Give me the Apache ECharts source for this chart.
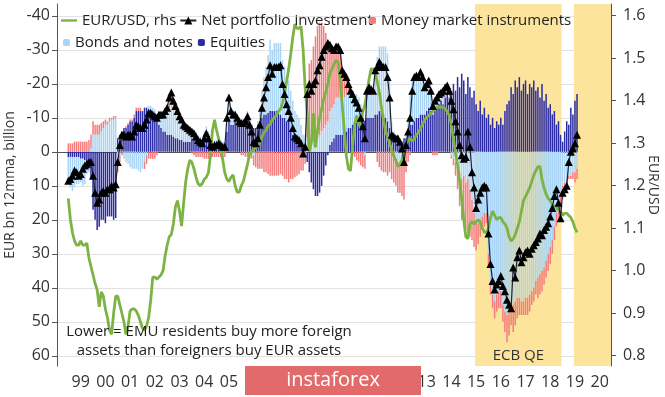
<!DOCTYPE html>
<html>
<head>
<meta charset="utf-8">
<script src="https://cdn.jsdelivr.net/npm/echarts@6/dist/echarts.min.js"></script>
<style>
  html, body { margin: 0; padding: 0; background: #fff; }
  #chart-container { width: 665px; height: 397px; }
</style>
</head>
<body>
<div id="chart-container"></div>
<script>
// monthly data, Jan 1999 .. Aug 2019 (EUR bn, 12m moving average; positive = net outflow, drawn downwards)
var equities = [
  1.5, 1.5, 1.5, 1.5, 1.5, 1.5, 2, 2, 2.5, 4, 5, 8,            // 1999
  17, 20, 23, 22, 20, 20, 21, 19, 19, 19, 20, 19.5,            // 2000
  -4, -5, -6, -7, -7, -8, -9, -9, -10, -12, -12, -12,          // 2001
  -12, -13, -13, -12.5, -12, -11, -10, -9, -8, -7, -6, -6,     // 2002
  -5, -5, -5, -4.5, -4, -4, -3.5, -3.5, -3, -3, -3, -3,        // 2003
  -4, -4, -4, -3, -2.5, -2, -3, -4, -3, -2, -2, -2,            // 2004
  -2, -2, -2, -2, -2.5, -6, -9, -8, -8, -9, -8.5, -8,          // 2005
  -8, -8, -9, -10, -9, -8, -7, -7, -8, -9, -10, -11,           // 2006
  -11, -11.5, -12, -12, -12, -12, -12, -11, -10, -10, -9, -9,  // 2007
  -6, -5, -4, -4, -4, -3, -2, -1, 3, 6, 9, 11,                 // 2008
  13, 13, 12, 10, 7, 4, 1, -2, -3, -4, -5, -5,                 // 2009
  -5, -5, -6, -6, -7, -7, -8, -8, -9, -9, -9, -10,             // 2010
  -9, -10, -10, -10, -10, -11, -11, -12, -12, -11, -10, -9,    // 2011
  -7, -5, -4, -4, -3.5, -3, -3, -4, -4, -6, -8, -8,            // 2012
  -9, -10, -10, -11, -11, -11, -12, -13, -12, -11, -12, -13,   // 2013
  -14, -15, -14, -16, -17, -16, -18, -20, -18, -22, -19, -23,  // 2014
  -21, -17, -22, -19, -16, -18, -14, -12, -15, -11, -13, -10,  // 2015
  -11, -8, -10, -7, -9, -8, -10, -8, -12, -14, -15, -19,       // 2016
  -17, -21, -19, -22, -18, -20, -21, -17, -20, -19, -21, -18,  // 2017
  -19, -16, -20, -15, -17, -13, -14, -11, -12, -8, -9, -5,     // 2018
  -3, -6, -9, -8, -13, -11, -15, -17                           // 2019
];
var bonds = [
  8, 9, 10, 9, 8, 8, 7, 8, 7, 2.5, 1, -1,
  -5, -5, -5, -5, -6, -7, -8, -8, -9, -9.5, -9.5, -10,
  2, 1, 0, 2, 3, 3.5, 4.5, 5, 5, 5, 5.5, 6,
  5, 3, 1, -1, -1.5, -2, -2.5, -2, -3, -4, -5, -5,
  -6, -8, -9, -8, -8, -7, -6.5, -5.5, -4.5, -4, -3.5, -3,
  -2.5, -2.5, -2, -2, -2, -2, -3, -3.5, -3, -1.5, -1, -1.5,
  -1.5, -2, -1.5, -1, -0.5, -4, -7, -4, -3, -2, -1.5, -1,
  -1.5, -1.5, -1.5, -2, -1, 0, 1, 0, -1, -4, -8, -11,
  -14, -17, -21, -18, -20, -20, -20, -21, -17, -15, -13, -12,
  -12, -10, -8, -7, -6, -5, -3, -4, -4, -4, -3, -3,
  -3, -4, -5, -6, -7, -8, -9, -10, -10, -10, -11, -11,
  -11, -10, -10, -11, -11, -11, -10, -9, -8, -7, -5, -2,
  1, -8, -9, -8.5, -8, -13, -17, -19, -19, -20, -21, -20,
  -15, -4, -2, 2, 3, 4, 3, 2, -1, -4, -9, -13,
  -13, -12.5, -12, -12.5, -11, -8, -8, -8, -6, -3, -4, -4,
  -3, -3.5, -3, -3, -2.5, -1, 1, 2, 3, 4, 6, 8,
  7, 9, 8, 11, 14, 18, 21, 21, 20, 19, 18, 18,
  30, 38, 42, 44, 42, 41, 41, 45, 47, 48, 47, 46,
  45, 44, 43, 43, 44, 44, 43, 43, 42, 41, 40, 38,
  37, 36, 35, 34, 32, 30, 28, 26, 22, 18, 14, 12,
  10, 9, 8, 7, 7, 6, 6, 5
];
var moneyMarket = [
  -2.5, -2.5, -2.5, -3, -3, -3, -3, -3, -3, -3, -3.5, -4,
  -4, -3, -3, -3, -2.5, -2, -1.5, -1, -1, -0.5, -1, -0.5,
  4, 2, 1, 0, -0.5, -0.5, -0.5, -0.5, -1, -1, -1, -1,
  0, 2, 2.5, 2, 2, 2, 2, 1, 0, 0, 0, -1,
  -2, -3, -3.5, -2.5, -1.5, -1, -0.5, -0.5, -0.5, -0.5, -0.5, -0.5,
  0.5, 1, 1.5, 1.5, 1.5, 1.5, 2, 2, 2, 1.5, 1.5, 1.5,
  1.5, 1.5, 1.5, 1.5, 1.5, 0, 0, 0, 0, 0, 0, 0,
  1, 1, 1.5, 1.5, 2, 2, 3, 4.5, 5, 5, 5, 6,
  6, 6.5, 7, 7, 7, 7, 7, 6.5, 7, 8, 8, 9,
  8, 8, 7.5, 7, 6.5, 5.5, 5.5, 3.5, -16, -22, -24, -28,
  -31, -33, -33, -32, -30, -27, -24, -20, -17.5, -16, -15, -15,
  -14, -9, -7, -5, -2, 0, 1, 1.5, 2.5, 3, 4, 4.5,
  4, 0, 0, 0, 0, 0, 3, 4.5, 5.5, 6, 6, 7,
  6, 8, 9, 8, 9, 8, 10, 12, 6, 3, 1, 0,
  0, 0, 0, 0, 0, 0, 0, 0, 0, 1, 1, 1,
  0, 0, 0, 0, 0, 0, 1, 2, 4, 7, 10, 12,
  13, 14, 16, 14, 12, 10, 8, 6, 5, 4, 4, 3,
  4, 4, 4, 5, 5, 5, 5, 5, 6, 8, 7, 5,
  8, 7, 6, 5, 4, 4, 5, 5, 5, 4, 4, 4,
  6, 6, 6, 5, 5, 5, 5, 4, 4, 4, 6, 8,
  4, 3, 2, 1, 1, 2, 3, 3
];
var netPortfolio = [
  8.5, 8, 7, 5.5, 6, 7, 6.5, 5, 4, 3.5, 3, 3,
  7, 12, 15, 14, 12, 11.5, 12, 11, 11, 10, 10.5, 9.5,
  3, -2, -5, -5, -4.5, -5, -5, -4.5, -6, -8, -7.5, -7,
  -7, -8, -9.5, -11.5, -11.5, -11, -10.5, -10, -11, -11, -11, -12,
  -13, -16, -17.5, -15, -13.5, -12, -10.5, -9.5, -8, -7.5, -7, -6.5,
  -6, -5.5, -4.5, -3.5, -3, -2.5, -4, -5.5, -4, -2, -1.5, -2,
  -2, -2.5, -2, -1.5, -1.5, -10, -16, -12, -11, -11, -10, -9,
  -8.5, -8.5, -9, -10.5, -8, -6, -3, -2.5, -4, -8, -13, -16,
  -19, -22, -25.5, -23, -25, -25, -25, -25.5, -20, -17, -14, -12,
  -10, -7, -4.5, -4, -3.5, -2.5, 0.5, -1.5, -17, -20, -18, -20,
  -21, -24, -25.5, -28, -30, -31, -32, -31.5, -30.5, -30, -31, -31,
  -30, -24, -23, -22, -20, -18, -17, -15.5, -14.5, -13, -10, -7.5,
  -4, -18, -19, -18.5, -18, -24, -25, -26.5, -25.5, -25, -25, -22,
  -16, -5, -4.5, -4, -4, -3, -1, 3, -2, -6, -10, -18,
  -22, -22.5, -22, -23.5, -22, -19, -20, -21, -18, -13.5, -15, -16,
  -17, -17.5, -18, -19, -19.5, -18, -15, -12.5, -9, -6, -2, 1,
  2, 1.5, -6, -1.5, 6, 10.5, 16.5, 14, 12, 10.5, 10, 10.5,
  24, 33, 38, 40.5, 39, 38, 36.5, 39.5, 41, 43.5, 45, 46,
  34, 37, 31, 29, 32.5, 31, 29.5, 29, 30, 28.5, 27.5, 26.5,
  25.5, 24, 24.5, 23, 22, 21, 19, 16.5, 13, 11, 15, 19.5,
  12, 11, 10, 3, 0, -1, -2.5, -5
];
var eurUsd = [
  1.17, 1.12, 1.09, 1.07, 1.06, 1.06, 1.07, 1.06, 1.06, 1.065, 1.03, 1.01,
  0.99, 0.97, 0.955, 0.915, 0.95, 0.94, 0.91, 0.89, 0.86, 0.85, 0.9, 0.94,
  0.94, 0.92, 0.9, 0.88, 0.85, 0.87, 0.905, 0.91, 0.91, 0.905, 0.895, 0.88,
  0.865, 0.86, 0.87, 0.89, 0.93, 0.985, 0.985, 0.98, 0.985, 0.99, 1.0, 1.035,
  1.06, 1.08, 1.085, 1.11, 1.15, 1.165, 1.14, 1.105, 1.16, 1.21, 1.24, 1.26,
  1.255, 1.24, 1.22, 1.205, 1.2, 1.205, 1.215, 1.22, 1.23, 1.27, 1.33, 1.355,
  1.33, 1.31, 1.29, 1.26, 1.23, 1.215, 1.21, 1.22, 1.225, 1.2, 1.185, 1.185,
  1.2, 1.21, 1.23, 1.25, 1.275, 1.28, 1.285, 1.29, 1.295, 1.3, 1.315, 1.325,
  1.33, 1.34, 1.345, 1.355, 1.36, 1.365, 1.375, 1.38, 1.395, 1.42, 1.445, 1.475,
  1.51, 1.55, 1.58, 1.57, 1.57, 1.575, 1.52, 1.43, 1.37, 1.28, 1.3, 1.37,
  1.29, 1.33, 1.36, 1.38, 1.405, 1.42, 1.44, 1.465, 1.475, 1.485, 1.495, 1.49,
  1.45, 1.39, 1.33, 1.27, 1.24, 1.235, 1.29, 1.345, 1.365, 1.34, 1.35, 1.375,
  1.39, 1.42, 1.45, 1.475, 1.475, 1.465, 1.445, 1.42, 1.385, 1.355, 1.33, 1.315,
  1.3, 1.285, 1.27, 1.26, 1.245, 1.25, 1.26, 1.28, 1.295, 1.31, 1.31, 1.305,
  1.31, 1.32, 1.325, 1.335, 1.345, 1.355, 1.36, 1.365, 1.37, 1.375, 1.38, 1.385,
  1.385, 1.385, 1.385, 1.38, 1.375, 1.365, 1.345, 1.31, 1.275, 1.25, 1.21, 1.17,
  1.12, 1.08, 1.075, 1.11, 1.115, 1.11, 1.115, 1.12, 1.115, 1.1, 1.09, 1.09,
  1.1, 1.125, 1.14, 1.13, 1.12, 1.125, 1.125, 1.115, 1.11, 1.1, 1.08, 1.07,
  1.075, 1.085, 1.1, 1.115, 1.14, 1.165, 1.175, 1.185, 1.195, 1.21, 1.225, 1.235,
  1.245, 1.245, 1.215, 1.195, 1.18, 1.17, 1.165, 1.155, 1.15, 1.148, 1.143, 1.14,
  1.13, 1.135, 1.135, 1.13, 1.125, 1.115, 1.1, 1.09
];
var qePeriods = [['2015-03', '2018-12'], ['2019-10', '2020-12']];

// month categories: Aug 1998 .. Dec 2020; the data starts in Jan 1999
var months = [];
for (var y = 1998; y <= 2020; y++) {
  for (var m = 1; m <= 12; m++) {
    if (y === 1998 && m < 8) continue;
    months.push(y + '-' + (m < 10 ? '0' + m : m));
  }
}
var lead = months.indexOf('1999-01');
function pad(arr) {
  var out = [];
  for (var i = 0; i < months.length; i++) {
    var v = arr[i - lead];
    out.push(v === undefined ? null : v);
  }
  return out;
}

var FONT = 'Open Sans';
var container = document.getElementById('chart-container');
var myChart = echarts.init(container);

myChart.setOption({
  animation: false,
  textStyle: { fontFamily: FONT },
  grid: { left: 57, right: 54, top: 4, bottom: 31, containLabel: false, outerBoundsMode: 'none' },
  legend: [
    {
      left: 56, top: 8, itemWidth: 16, itemHeight: 10, itemGap: 3,
      textStyle: { fontSize: 15, color: '#222', fontFamily: FONT },
      data: [
        { name: 'EUR/USD, rhs', icon: 'path://M0,0H20V3H0Z' },
        'Net portfolio investment'
      ]
    },
    {
      left: 364, top: 8, itemWidth: 7, itemHeight: 7,
      textStyle: { fontSize: 15, color: '#222', fontFamily: FONT },
      data: ['Money market instruments']
    },
    {
      left: 58, top: 30, itemWidth: 7, itemHeight: 7, itemGap: 5,
      textStyle: { fontSize: 15, color: '#222', fontFamily: FONT },
      data: ['Bonds and notes', 'Equities']
    }
  ],
  xAxis: {
    type: 'category',
    data: months,
    boundaryGap: true,
    axisLine: { lineStyle: { color: '#555', width: 1 } },
    axisTick: {
      interval: function (i, v) { return v.slice(5) === '01'; },
      length: 5, lineStyle: { color: '#555' }
    },
    axisLabel: {
      interval: function (i, v) { return v.slice(5) === '07'; },
      formatter: function (v) { return v.slice(2, 4); },
      fontSize: 16, color: '#333', margin: 8
    },
    splitLine: { show: false }
  },
  yAxis: [
    {
      type: 'value',
      inverse: true,
      min: -43.5, max: 63, splitNumber: 10,
      name: 'EUR bn 12mma, billion',
      nameLocation: 'middle', nameGap: 40, nameMoveOverlap: false,
      nameTextStyle: { fontSize: 14, color: '#333' },
      axisLine: { show: true, lineStyle: { color: '#555' } },
      axisTick: { show: true, length: 5, lineStyle: { color: '#555' } },
      axisLabel: { fontSize: 16, color: '#333', margin: 7, showMinLabel: false, showMaxLabel: false },
      splitLine: { show: true, showMinLine: false, showMaxLine: false, lineStyle: { color: '#e2e2e2' } }
    },
    {
      type: 'value',
      position: 'right',
      min: 0.7758, max: 1.6275, splitNumber: 8,
      name: 'EUR/USD',
      nameLocation: 'middle', nameGap: 35, nameRotate: -90, nameMoveOverlap: false,
      nameTextStyle: { fontSize: 14, color: '#333' },
      axisLine: { show: true, lineStyle: { color: '#555' } },
      axisTick: { show: true, length: 5, lineStyle: { color: '#555' } },
      axisLabel: {
        fontSize: 16, color: '#333', margin: 12, showMinLabel: false, showMaxLabel: false,
        formatter: function (v) { return v.toFixed(1); }
      },
      splitLine: { show: false }
    }
  ],
  series: [
    {
      name: 'Equities', type: 'bar', stack: 'flows', barWidth: 1.5,
      itemStyle: { color: '#2b2ba6' },
      data: pad(equities),
      markArea: {
        silent: true,
        itemStyle: { color: '#fce49d' },
        label: { show: false },
        data: qePeriods.map(function (p, i) {
          return [
            { xAxis: p[0], label: { show: i === 0, position: 'insideBottom', distance: 3,
              formatter: 'ECB QE', fontSize: 15, color: '#333' } },
            { xAxis: p[1] }
          ];
        })
      }
    },
    {
      name: 'Bonds and notes', type: 'bar', stack: 'flows', barWidth: 1.5,
      itemStyle: { color: '#a9d4f5' },
      data: pad(bonds)
    },
    {
      name: 'Money market instruments', type: 'bar', stack: 'flows', barWidth: 1.5,
      itemStyle: { color: '#f47c7c' },
      data: pad(moneyMarket)
    },
    {
      name: 'EUR/USD, rhs', type: 'line', yAxisIndex: 1,
      symbol: 'none', smooth: false,
      lineStyle: { color: '#7db343', width: 2.8 },
      itemStyle: { color: '#7db343' },
      data: pad(eurUsd)
    },
    {
      name: 'Net portfolio investment', type: 'line',
      symbol: 'triangle', symbolSize: 8, showAllSymbol: true,
      lineStyle: { color: '#1b2236', width: 1.2 },
      itemStyle: { color: '#000' },
      data: pad(netPortfolio),
      z: 5
    }
  ],
  graphic: [
    {
      type: 'text', x: 209, y: 322, z: 10,
      style: {
        text: 'Lower = EMU residents buy more foreign\nassets than foreigners buy EUR assets',
        textAlign: 'center', fontSize: 15, lineHeight: 19,
        fill: '#222', fontFamily: FONT
      }
    },
    { type: 'rect', z: 100, shape: { x: 245, y: 366, width: 176, height: 29 }, style: { fill: '#e26a6a' } },
    {
      type: 'text', z: 101, x: 333, y: 380.5,
      style: { text: 'instaforex', textAlign: 'center', textVerticalAlign: 'middle', fontSize: 20, fill: '#fff', fontFamily: FONT }
    }
  ]
});
</script>
</body>
</html>
